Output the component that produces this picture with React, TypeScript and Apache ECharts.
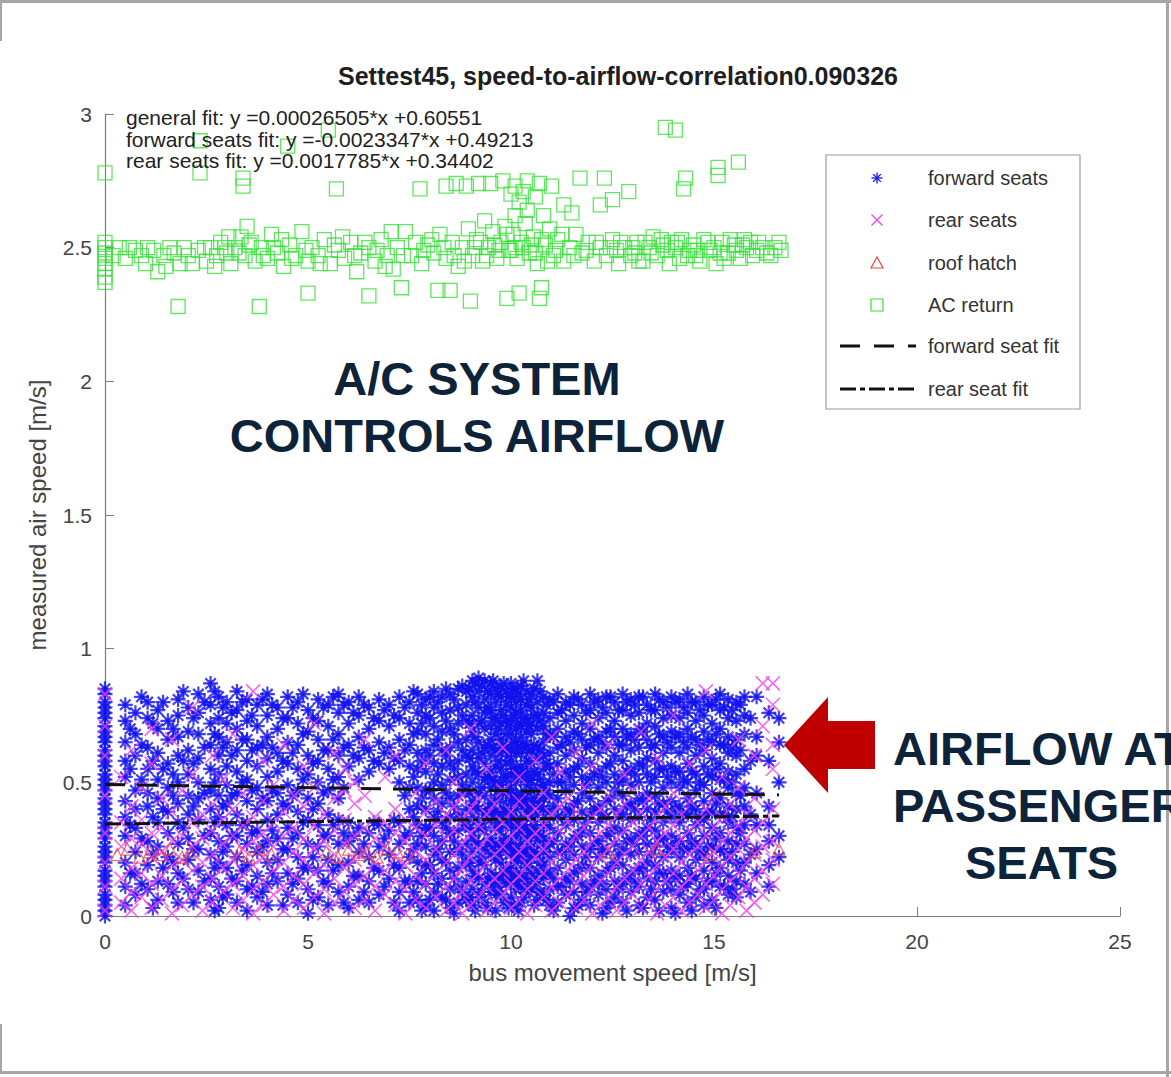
import React, { useEffect, useRef } from "react";
import * as echarts from "echarts";

const FONT = "'Liberation Sans', Arial, Helvetica, sans-serif";

const chartTitle = "Settest45, speed-to-airflow-correlation0.090326";
const xAxisName = "bus movement speed [m/s]";
const yAxisName = "measured air speed [m/s]";
const fitNotes = [
  "general fit: y =0.00026505*x +0.60551",
  "forward seats fit: y =-0.0023347*x +0.49213",
  "rear seats fit: y =0.0017785*x +0.34402",
];
const legendNames = ["forward seats", "rear seats", "roof hatch", "AC return", "forward seat fit", "rear seat fit"];
const calloutTop = ["A/C SYSTEM", "CONTROLS AIRFLOW"];
const calloutRight = ["AIRFLOW AT", "PASSENGERS", "SEATS"];

// forward seats: [bus speed, list of air speeds measured at that speed]
const forwardSeats: [number, number[]][] = [
  [0, [0.0, 0.02, 0.04, 0.06, 0.08, 0.11, 0.13, 0.15, 0.17, 0.2, 0.22, 0.24, 0.26, 0.29, 0.31, 0.33, 0.35, 0.38, 0.4, 0.42, 0.44, 0.47, 0.49, 0.51, 0.53, 0.56, 0.58, 0.6, 0.62, 0.65, 0.67, 0.69, 0.71, 0.74, 0.76, 0.78, 0.8, 0.83, 0.85]],
  [0.5, [0.79, 0.73, 0.65, 0.58, 0.52, 0.43, 0.37, 0.3, 0.2, 0.11, 0.04]],
  [0.62, [0.7, 0.55, 0.34, 0.16]],
  [0.75, [0.76, 0.68, 0.6, 0.47, 0.4, 0.33, 0.24, 0.16, 0.08]],
  [0.9, [0.82, 0.64, 0.51, 0.29, 0.12]],
  [1.05, [0.8, 0.74, 0.63, 0.55, 0.46, 0.41, 0.28, 0.19, 0.1]],
  [1.18, [0.72, 0.58, 0.37, 0.23, 0.03]],
  [1.3, [0.77, 0.7, 0.61, 0.51, 0.44, 0.35, 0.26, 0.13, 0.06]],
  [1.43, [0.8, 0.55, 0.4, 0.18]],
  [1.55, [0.73, 0.66, 0.57, 0.48, 0.39, 0.31, 0.22, 0.12]],
  [1.68, [0.7, 0.53, 0.45, 0.2, 0.09]],
  [1.8, [0.81, 0.75, 0.67, 0.6, 0.5, 0.42, 0.35, 0.27, 0.16, 0.05]],
  [1.93, [0.84, 0.58, 0.33, 0.14]],
  [2.05, [0.78, 0.69, 0.62, 0.53, 0.45, 0.38, 0.29, 0.21, 0.1]],
  [2.18, [0.74, 0.57, 0.41, 0.25, 0.05]],
  [2.3, [0.83, 0.76, 0.68, 0.59, 0.5, 0.44, 0.36, 0.25, 0.17, 0.09]],
  [2.45, [0.8, 0.63, 0.46, 0.3, 0.13]],
  [2.6, [0.87, 0.79, 0.72, 0.64, 0.55, 0.47, 0.4, 0.31, 0.23, 0.14, 0.06]],
  [2.7, [0.84, 0.68, 0.5, 0.35, 0.18, 0.02]],
  [2.8, [0.82, 0.74, 0.67, 0.6, 0.53, 0.45, 0.37, 0.28, 0.2, 0.11, 0.03]],
  [2.9, [0.78, 0.63, 0.41, 0.24, 0.07]],
  [3.0, [0.8, 0.72, 0.65, 0.56, 0.49, 0.42, 0.34, 0.26, 0.18, 0.08]],
  [3.12, [0.76, 0.6, 0.45, 0.3, 0.14]],
  [3.25, [0.84, 0.77, 0.7, 0.62, 0.54, 0.46, 0.38, 0.3, 0.22, 0.13, 0.05]],
  [3.38, [0.8, 0.66, 0.5, 0.34, 0.17]],
  [3.5, [0.81, 0.73, 0.66, 0.58, 0.51, 0.43, 0.35, 0.27, 0.19, 0.1, 0.02]],
  [3.62, [0.75, 0.62, 0.47, 0.31, 0.11]],
  [3.75, [0.79, 0.71, 0.63, 0.56, 0.48, 0.4, 0.32, 0.24, 0.15, 0.07]],
  [3.88, [0.81, 0.64, 0.44, 0.26, 0.09]],
  [4.0, [0.83, 0.75, 0.67, 0.59, 0.52, 0.43, 0.36, 0.28, 0.2, 0.12, 0.04]],
  [4.12, [0.79, 0.63, 0.47, 0.32, 0.16]],
  [4.25, [0.78, 0.7, 0.61, 0.54, 0.46, 0.38, 0.29, 0.21, 0.13]],
  [4.38, [0.74, 0.58, 0.42, 0.25, 0.04]],
  [4.5, [0.82, 0.74, 0.65, 0.57, 0.49, 0.41, 0.33, 0.25, 0.16, 0.08]],
  [4.62, [0.78, 0.61, 0.45, 0.29, 0.12]],
  [4.75, [0.8, 0.72, 0.64, 0.55, 0.47, 0.39, 0.31, 0.22, 0.14, 0.05]],
  [4.88, [0.83, 0.68, 0.51, 0.35, 0.18]],
  [5.0, [0.77, 0.69, 0.6, 0.53, 0.44, 0.36, 0.27, 0.18, 0.1, 0.01]],
  [5.12, [0.74, 0.57, 0.4, 0.22, 0.06]],
  [5.25, [0.81, 0.73, 0.66, 0.58, 0.5, 0.42, 0.34, 0.26, 0.17, 0.07]],
  [5.38, [0.78, 0.62, 0.46, 0.3, 0.13]],
  [5.5, [0.79, 0.71, 0.62, 0.55, 0.47, 0.38, 0.3, 0.21, 0.12, 0.04]],
  [5.62, [0.82, 0.66, 0.51, 0.34, 0.17]],
  [5.75, [0.83, 0.76, 0.68, 0.6, 0.52, 0.44, 0.36, 0.27, 0.19, 0.09]],
  [5.88, [0.79, 0.63, 0.48, 0.31, 0.05]],
  [6.0, [0.8, 0.72, 0.64, 0.56, 0.35, 0.28, 0.2, 0.11, 0.03]],
  [6.12, [0.76, 0.6, 0.3, 0.15]],
  [6.25, [0.82, 0.75, 0.67, 0.59, 0.51, 0.33, 0.24, 0.15, 0.06]],
  [6.38, [0.79, 0.63, 0.27, 0.09]],
  [6.5, [0.78, 0.7, 0.62, 0.54, 0.31, 0.22, 0.13, 0.05]],
  [6.62, [0.74, 0.58, 0.35, 0.18]],
  [6.75, [0.81, 0.73, 0.65, 0.57, 0.34, 0.26, 0.17, 0.08]],
  [6.88, [0.77, 0.61, 0.29, 0.11]],
  [7.0, [0.79, 0.71, 0.63, 0.55, 0.32, 0.23, 0.14]],
  [7.12, [0.75, 0.59, 0.36, 0.19, 0.05]],
  [7.25, [0.82, 0.74, 0.66, 0.58, 0.5, 0.35, 0.27, 0.18, 0.09, 0.02]],
  [7.38, [0.78, 0.62, 0.45, 0.3, 0.13]],
  [7.5, [0.8, 0.72, 0.64, 0.56, 0.48, 0.4, 0.31, 0.22, 0.13, 0.05]],
  [7.6, [0.84, 0.68, 0.52, 0.37, 0.25, 0.09]],
  [7.7, [0.83, 0.76, 0.69, 0.61, 0.55, 0.48, 0.41, 0.34, 0.27, 0.2, 0.13, 0.06]],
  [7.8, [0.79, 0.72, 0.58, 0.44, 0.3, 0.16, 0.02]],
  [7.9, [0.81, 0.75, 0.68, 0.62, 0.54, 0.47, 0.4, 0.33, 0.26, 0.19, 0.12, 0.04]],
  [8.0, [0.82, 0.74, 0.6, 0.47, 0.33, 0.19, 0.06]],
  [8.1, [0.84, 0.78, 0.71, 0.64, 0.57, 0.5, 0.44, 0.37, 0.3, 0.23, 0.16, 0.09, 0.02]],
  [8.2, [0.8, 0.66, 0.53, 0.39, 0.25, 0.12]],
  [8.3, [0.82, 0.76, 0.69, 0.62, 0.56, 0.49, 0.42, 0.35, 0.28, 0.21, 0.14, 0.07]],
  [8.4, [0.85, 0.73, 0.6, 0.46, 0.33, 0.2, 0.06]],
  [8.5, [0.83, 0.77, 0.7, 0.63, 0.57, 0.51, 0.44, 0.37, 0.31, 0.24, 0.17, 0.1, 0.03]],
  [8.6, [0.81, 0.68, 0.55, 0.41, 0.28, 0.14, 0.01]],
  [8.7, [0.85, 0.78, 0.72, 0.65, 0.58, 0.52, 0.45, 0.38, 0.32, 0.25, 0.18, 0.11, 0.05]],
  [8.8, [0.86, 0.75, 0.62, 0.49, 0.36, 0.23, 0.09]],
  [8.9, [0.84, 0.79, 0.73, 0.66, 0.6, 0.53, 0.47, 0.4, 0.34, 0.27, 0.2, 0.13, 0.06]],
  [8.98, [0.85, 0.72, 0.59, 0.46, 0.33, 0.2, 0.07]],
  [9.05, [0.88, 0.82, 0.75, 0.69, 0.62, 0.56, 0.5, 0.43, 0.37, 0.3, 0.24, 0.17, 0.1, 0.04]],
  [9.12, [0.87, 0.8, 0.67, 0.54, 0.41, 0.28, 0.15, 0.02]],
  [9.2, [0.89, 0.84, 0.78, 0.72, 0.65, 0.59, 0.53, 0.46, 0.4, 0.33, 0.27, 0.2, 0.14, 0.07]],
  [9.28, [0.86, 0.73, 0.61, 0.48, 0.35, 0.22, 0.09]],
  [9.35, [0.88, 0.81, 0.76, 0.7, 0.63, 0.57, 0.51, 0.45, 0.38, 0.32, 0.25, 0.19, 0.12, 0.05]],
  [9.43, [0.84, 0.78, 0.64, 0.52, 0.4, 0.27, 0.14, 0.03]],
  [9.5, [0.87, 0.83, 0.77, 0.71, 0.66, 0.6, 0.54, 0.48, 0.42, 0.36, 0.29, 0.23, 0.16, 0.09]],
  [9.56, [0.88, 0.74, 0.63, 0.51, 0.39, 0.26, 0.12]],
  [9.62, [0.85, 0.8, 0.74, 0.68, 0.62, 0.56, 0.5, 0.44, 0.39, 0.33, 0.27, 0.21, 0.15, 0.08, 0.02]],
  [9.69, [0.83, 0.7, 0.58, 0.47, 0.35, 0.23, 0.11]],
  [9.75, [0.86, 0.82, 0.77, 0.72, 0.66, 0.61, 0.55, 0.49, 0.44, 0.38, 0.32, 0.26, 0.2, 0.14, 0.08]],
  [9.82, [0.87, 0.75, 0.64, 0.52, 0.4, 0.28, 0.16, 0.05]],
  [9.88, [0.84, 0.79, 0.73, 0.68, 0.63, 0.57, 0.52, 0.46, 0.41, 0.35, 0.29, 0.24, 0.18, 0.12]],
  [9.94, [0.82, 0.71, 0.6, 0.49, 0.37, 0.26, 0.14, 0.03]],
  [10.0, [0.87, 0.82, 0.78, 0.73, 0.68, 0.62, 0.58, 0.53, 0.47, 0.43, 0.38, 0.33, 0.27, 0.23, 0.18, 0.13, 0.07]],
  [10.06, [0.85, 0.75, 0.65, 0.55, 0.45, 0.35, 0.25, 0.15, 0.04]],
  [10.12, [0.85, 0.8, 0.76, 0.7, 0.65, 0.61, 0.55, 0.5, 0.45, 0.4, 0.36, 0.3, 0.25, 0.2, 0.15, 0.1]],
  [10.18, [0.83, 0.72, 0.63, 0.53, 0.42, 0.33, 0.22, 0.12, 0.02]],
  [10.25, [0.86, 0.81, 0.77, 0.71, 0.67, 0.61, 0.56, 0.52, 0.46, 0.42, 0.36, 0.31, 0.27, 0.21, 0.16, 0.11, 0.05]],
  [10.31, [0.88, 0.74, 0.64, 0.54, 0.44, 0.34, 0.24, 0.14, 0.07]],
  [10.38, [0.84, 0.79, 0.74, 0.69, 0.64, 0.58, 0.54, 0.49, 0.44, 0.39, 0.33, 0.29, 0.24, 0.18, 0.13]],
  [10.44, [0.81, 0.71, 0.61, 0.51, 0.41, 0.31, 0.2, 0.09]],
  [10.5, [0.83, 0.78, 0.72, 0.68, 0.62, 0.57, 0.51, 0.47, 0.41, 0.37, 0.31, 0.26, 0.22, 0.16, 0.1]],
  [10.57, [0.85, 0.75, 0.64, 0.54, 0.44, 0.34, 0.24, 0.14, 0.04]],
  [10.65, [0.88, 0.8, 0.75, 0.7, 0.63, 0.59, 0.53, 0.48, 0.43, 0.38, 0.32, 0.28, 0.23, 0.17, 0.12, 0.06]],
  [10.72, [0.84, 0.73, 0.62, 0.51, 0.41, 0.3, 0.2, 0.09]],
  [10.8, [0.82, 0.76, 0.71, 0.65, 0.6, 0.55, 0.49, 0.44, 0.4, 0.34, 0.29, 0.24, 0.19, 0.14, 0.08]],
  [10.87, [0.79, 0.68, 0.57, 0.47, 0.36, 0.26, 0.16, 0.06]],
  [10.95, [0.81, 0.74, 0.68, 0.61, 0.56, 0.5, 0.45, 0.39, 0.33, 0.27, 0.22, 0.16, 0.1, 0.04]],
  [11.05, [0.8, 0.67, 0.53, 0.41, 0.28, 0.14, 0.02]],
  [11.15, [0.83, 0.76, 0.7, 0.63, 0.57, 0.5, 0.44, 0.37, 0.31, 0.24, 0.18, 0.11, 0.05]],
  [11.25, [0.77, 0.64, 0.5, 0.37, 0.24, 0.11]],
  [11.35, [0.8, 0.73, 0.67, 0.6, 0.54, 0.47, 0.4, 0.34, 0.27, 0.21, 0.14, 0.08]],
  [11.45, [0.79, 0.65, 0.52, 0.39, 0.26, 0.13, 0.0]],
  [11.55, [0.82, 0.75, 0.69, 0.62, 0.55, 0.49, 0.42, 0.36, 0.29, 0.23, 0.16, 0.09, 0.03]],
  [11.65, [0.81, 0.68, 0.56, 0.43, 0.3, 0.17, 0.04]],
  [11.75, [0.79, 0.72, 0.66, 0.59, 0.52, 0.46, 0.39, 0.32, 0.26, 0.19, 0.12, 0.06]],
  [11.85, [0.76, 0.63, 0.49, 0.35, 0.22, 0.09]],
  [11.95, [0.83, 0.77, 0.7, 0.64, 0.57, 0.51, 0.44, 0.38, 0.31, 0.25, 0.18, 0.11, 0.04]],
  [12.05, [0.8, 0.66, 0.53, 0.4, 0.27, 0.13]],
  [12.15, [0.81, 0.74, 0.67, 0.61, 0.54, 0.48, 0.41, 0.35, 0.28, 0.22, 0.15, 0.08]],
  [12.25, [0.78, 0.65, 0.52, 0.38, 0.25, 0.12, 0.01]],
  [12.35, [0.82, 0.76, 0.69, 0.63, 0.56, 0.5, 0.43, 0.37, 0.3, 0.24, 0.17, 0.1, 0.03]],
  [12.45, [0.82, 0.7, 0.57, 0.44, 0.31, 0.18, 0.05]],
  [12.55, [0.8, 0.73, 0.67, 0.6, 0.53, 0.47, 0.4, 0.33, 0.27, 0.2, 0.13, 0.07]],
  [12.65, [0.77, 0.64, 0.5, 0.37, 0.23, 0.1]],
  [12.75, [0.83, 0.77, 0.7, 0.64, 0.58, 0.51, 0.45, 0.38, 0.32, 0.25, 0.19, 0.12, 0.05]],
  [12.85, [0.8, 0.67, 0.54, 0.41, 0.28, 0.14, 0.02]],
  [12.95, [0.81, 0.75, 0.68, 0.62, 0.55, 0.49, 0.42, 0.36, 0.29, 0.23, 0.16, 0.09]],
  [13.05, [0.79, 0.66, 0.53, 0.4, 0.27, 0.13]],
  [13.15, [0.82, 0.76, 0.7, 0.63, 0.57, 0.5, 0.44, 0.37, 0.31, 0.24, 0.18, 0.11, 0.04]],
  [13.25, [0.82, 0.69, 0.56, 0.43, 0.3, 0.17, 0.03]],
  [13.35, [0.79, 0.72, 0.66, 0.59, 0.53, 0.46, 0.4, 0.33, 0.27, 0.2, 0.14, 0.07]],
  [13.45, [0.77, 0.63, 0.5, 0.36, 0.23, 0.1]],
  [13.55, [0.83, 0.77, 0.71, 0.64, 0.58, 0.52, 0.45, 0.39, 0.32, 0.26, 0.19, 0.13, 0.06]],
  [13.65, [0.81, 0.68, 0.55, 0.42, 0.29, 0.16, 0.02]],
  [13.75, [0.8, 0.74, 0.67, 0.61, 0.55, 0.48, 0.42, 0.35, 0.29, 0.22, 0.16, 0.09]],
  [13.85, [0.78, 0.65, 0.52, 0.39, 0.26, 0.13]],
  [13.95, [0.82, 0.75, 0.69, 0.63, 0.56, 0.5, 0.43, 0.37, 0.3, 0.24, 0.17, 0.1, 0.03]],
  [14.05, [0.8, 0.67, 0.54, 0.4, 0.27, 0.14, 0.01]],
  [14.15, [0.81, 0.74, 0.68, 0.61, 0.54, 0.48, 0.41, 0.35, 0.28, 0.22, 0.15, 0.08]],
  [14.25, [0.78, 0.65, 0.51, 0.38, 0.25, 0.11]],
  [14.35, [0.83, 0.76, 0.7, 0.63, 0.57, 0.5, 0.44, 0.38, 0.31, 0.25, 0.18, 0.12, 0.05]],
  [14.45, [0.8, 0.67, 0.54, 0.41, 0.28, 0.15, 0.02]],
  [14.55, [0.8, 0.73, 0.66, 0.6, 0.53, 0.47, 0.4, 0.34, 0.27, 0.21, 0.14, 0.07]],
  [14.65, [0.77, 0.64, 0.5, 0.37, 0.24, 0.1]],
  [14.75, [0.82, 0.75, 0.69, 0.62, 0.56, 0.49, 0.43, 0.36, 0.3, 0.23, 0.17, 0.1, 0.04]],
  [14.85, [0.79, 0.66, 0.53, 0.39, 0.26, 0.13]],
  [14.95, [0.79, 0.72, 0.65, 0.59, 0.52, 0.46, 0.39, 0.33, 0.26, 0.2, 0.13, 0.06]],
  [15.05, [0.81, 0.68, 0.55, 0.42, 0.29, 0.16, 0.03]],
  [15.15, [0.83, 0.77, 0.7, 0.64, 0.57, 0.51, 0.44, 0.38, 0.31, 0.25, 0.18, 0.11]],
  [15.25, [0.78, 0.64, 0.51, 0.38, 0.24, 0.11]],
  [15.35, [0.81, 0.74, 0.67, 0.61, 0.54, 0.48, 0.41, 0.35, 0.28, 0.21, 0.15, 0.08]],
  [15.45, [0.77, 0.63, 0.5, 0.37, 0.24, 0.1]],
  [15.55, [0.8, 0.73, 0.66, 0.6, 0.53, 0.46, 0.4, 0.33, 0.27, 0.2, 0.13, 0.07]],
  [15.65, [0.79, 0.62, 0.45, 0.31, 0.17]],
  [15.75, [0.82, 0.75, 0.68, 0.55, 0.48, 0.41, 0.34, 0.27, 0.2, 0.12]],
  [15.9, [0.74, 0.58, 0.38, 0.23, 0.09]],
  [16.05, [0.82, 0.67, 0.6, 0.46, 0.34, 0.25, 0.16]],
  [16.35, [0.76, 0.58, 0.41, 0.34, 0.28, 0.19, 0.11]],
  [16.6, [0.74, 0.65, 0.5, 0.3, 0.22]],
];

// rear seats: [bus speed, list of air speeds]
const rearSeats: [number, number[]][] = [
  [0, [0.02, 0.11, 0.2, 0.31, 0.45, 0.6, 0.71, 0.83]],
  [0.4, [0.05, 0.14, 0.26, 0.35, 0.52]],
  [0.65, [0.02, 0.09, 0.18, 0.29, 0.41, 0.62]],
  [0.9, [0.07, 0.16, 0.27, 0.36, 0.48]],
  [1.15, [0.03, 0.12, 0.22, 0.31, 0.57, 0.7]],
  [1.4, [0.06, 0.15, 0.24, 0.33, 0.44]],
  [1.65, [0.01, 0.1, 0.19, 0.28, 0.39, 0.66]],
  [1.9, [0.04, 0.13, 0.21, 0.3, 0.47]],
  [2.15, [0.08, 0.17, 0.26, 0.35, 0.53, 0.78]],
  [2.4, [0.02, 0.11, 0.2, 0.29, 0.38]],
  [2.65, [0.05, 0.14, 0.23, 0.32, 0.42, 0.6]],
  [2.9, [0.09, 0.18, 0.27, 0.36, 0.51]],
  [3.15, [0.03, 0.12, 0.21, 0.3, 0.4, 0.68]],
  [3.4, [0.06, 0.15, 0.25, 0.34, 0.46]],
  [3.65, [0.01, 0.1, 0.19, 0.28, 0.37, 0.84]],
  [3.9, [0.04, 0.13, 0.22, 0.31, 0.43, 0.58]],
  [4.15, [0.08, 0.17, 0.26, 0.35, 0.49]],
  [4.4, [0.02, 0.11, 0.2, 0.3, 0.39, 0.64]],
  [4.65, [0.06, 0.15, 0.24, 0.33, 0.45]],
  [4.9, [0.03, 0.12, 0.21, 0.29, 0.41, 0.56]],
  [5.15, [0.07, 0.16, 0.25, 0.34, 0.48, 0.72]],
  [5.4, [0.01, 0.1, 0.19, 0.28, 0.38]],
  [5.65, [0.05, 0.14, 0.23, 0.32, 0.44, 0.61]],
  [5.9, [0.09, 0.18, 0.27, 0.36, 0.47, 0.55]],
  [6.15, [0.03, 0.12, 0.21, 0.3, 0.42, 0.5]],
  [6.4, [0.06, 0.15, 0.24, 0.33, 0.45, 0.66]],
  [6.65, [0.02, 0.11, 0.2, 0.29, 0.37]],
  [6.9, [0.08, 0.17, 0.26, 0.35, 0.52]],
  [7.15, [0.04, 0.13, 0.22, 0.31, 0.4, 0.6]],
  [7.4, [0.01, 0.1, 0.19, 0.28, 0.36]],
  [7.65, [0.06, 0.15, 0.24, 0.33, 0.46]],
  [7.9, [0.03, 0.12, 0.21, 0.3, 0.39, 0.57]],
  [8.15, [0.07, 0.16, 0.25, 0.34, 0.43]],
  [8.4, [0.02, 0.11, 0.2, 0.29, 0.38, 0.62]],
  [8.6, [0.05, 0.14, 0.23, 0.32, 0.41, 0.5]],
  [8.8, [0.01, 0.09, 0.18, 0.27, 0.36, 0.45]],
  [9.0, [0.04, 0.13, 0.22, 0.31, 0.4, 0.7]],
  [9.2, [0.07, 0.16, 0.25, 0.34, 0.44]],
  [9.4, [0.02, 0.11, 0.2, 0.29, 0.38, 0.55]],
  [9.6, [0.05, 0.14, 0.23, 0.32, 0.42]],
  [9.8, [0.08, 0.17, 0.26, 0.35, 0.47, 0.63]],
  [10.0, [0.03, 0.12, 0.21, 0.3, 0.39]],
  [10.2, [0.06, 0.15, 0.24, 0.33, 0.43, 0.52]],
  [10.4, [0.01, 0.1, 0.19, 0.28, 0.37]],
  [10.6, [0.04, 0.13, 0.22, 0.31, 0.4, 0.58]],
  [10.8, [0.07, 0.16, 0.25, 0.34, 0.46]],
  [11.0, [0.02, 0.11, 0.2, 0.29, 0.38, 0.67]],
  [11.2, [0.05, 0.14, 0.23, 0.32, 0.41, 0.54]],
  [11.4, [0.08, 0.17, 0.26, 0.35, 0.44]],
  [11.6, [0.03, 0.12, 0.21, 0.3, 0.39, 0.61]],
  [11.8, [0.06, 0.15, 0.24, 0.33, 0.48]],
  [12.0, [0.01, 0.1, 0.19, 0.28, 0.37, 0.56, 0.72]],
  [12.2, [0.04, 0.13, 0.22, 0.31, 0.4]],
  [12.4, [0.07, 0.16, 0.25, 0.34, 0.45, 0.64]],
  [12.6, [0.02, 0.11, 0.2, 0.29, 0.38]],
  [12.8, [0.05, 0.14, 0.23, 0.32, 0.42, 0.53]],
  [13.0, [0.08, 0.17, 0.26, 0.35, 0.47]],
  [13.2, [0.03, 0.12, 0.21, 0.3, 0.39, 0.69]],
  [13.4, [0.06, 0.15, 0.24, 0.33, 0.44]],
  [13.6, [0.01, 0.1, 0.19, 0.28, 0.37, 0.59]],
  [13.8, [0.04, 0.13, 0.22, 0.31, 0.41]],
  [14.0, [0.07, 0.16, 0.25, 0.34, 0.46, 0.75]],
  [14.2, [0.02, 0.11, 0.2, 0.29, 0.38]],
  [14.4, [0.05, 0.14, 0.23, 0.32, 0.43, 0.57]],
  [14.6, [0.08, 0.17, 0.26, 0.35]],
  [14.8, [0.03, 0.12, 0.21, 0.3, 0.4, 0.62, 0.84]],
  [15.0, [0.06, 0.15, 0.24, 0.33, 0.45]],
  [15.2, [0.01, 0.1, 0.19, 0.28, 0.37, 0.52]],
  [15.4, [0.04, 0.13, 0.22, 0.31, 0.42]],
  [15.6, [0.07, 0.16, 0.25, 0.34, 0.48, 0.66]],
  [15.8, [0.02, 0.11, 0.2, 0.29, 0.38]],
  [16.0, [0.05, 0.14, 0.23, 0.32, 0.44, 0.6]],
  [16.2, [0.08, 0.17, 0.26, 0.35, 0.71, 0.87]],
  [16.45, [0.12, 0.21, 0.28, 0.4, 0.55, 0.64, 0.79, 0.87]],
];

const roofHatch: [number, number][] = [
  [0.3, 0.23], [0.55, 0.25], [0.85, 0.22], [1.1, 0.24], [1.35, 0.23], [1.6, 0.25], [1.9, 0.22], [2.1, 0.24],
  [3.3, 0.24], [3.55, 0.22], [3.8, 0.25], [4.1, 0.23], [5.45, 0.24], [5.75, 0.22], [6.0, 0.25], [6.25, 0.23],
  [6.45, 0.24], [6.7, 0.22], [6.95, 0.25], [7.2, 0.24], [7.45, 0.23], [12.4, 0.24], [13.6, 0.25], [14.9, 0.23],
  [16.0, 0.24], [16.6, 0.25],
];

const acReturn: [number, number][] = [
  [0, 2.37], [0, 2.39], [0, 2.42], [0, 2.44], [0, 2.46], [0, 2.48], [0, 2.5], [0, 2.52], [0, 2.78],
  [0.35, 2.5], [0.5, 2.46], [0.75, 2.49], [1.0, 2.44], [1.05, 2.5], [1.3, 2.41], [1.45, 2.47], [1.6, 2.5],
  [1.8, 2.28], [1.85, 2.44], [2.05, 2.47], [2.3, 2.49], [2.34, 2.9], [2.34, 2.78], [2.5, 2.45], [2.6, 2.5],
  [2.75, 2.47], [2.85, 2.52], [3.0, 2.48], [3.1, 2.44], [3.2, 2.5], [3.35, 2.54], [3.4, 2.76], [3.4, 2.73],
  [3.45, 2.47], [3.5, 2.58], [3.55, 2.51], [3.7, 2.45], [3.8, 2.28], [3.85, 2.5], [4.0, 2.46], [4.1, 2.55],
  [4.25, 2.48], [4.4, 2.43], [4.5, 2.88], [4.55, 2.51], [4.7, 2.47], [4.85, 2.56], [5.0, 2.33], [5.0, 2.45],
  [5.1, 2.5], [5.25, 2.47], [5.4, 2.53], [5.5, 2.94], [5.55, 2.44], [5.7, 2.72], [5.75, 2.49], [5.9, 2.46],
  [6.05, 2.52], [6.2, 2.41], [6.3, 2.48], [6.5, 2.32], [6.5, 2.5], [6.65, 2.45], [6.8, 2.53], [6.95, 2.47],
  [7.1, 2.42], [7.2, 2.5], [7.3, 2.35], [7.4, 2.56], [7.55, 2.47], [7.76, 2.72], [7.8, 2.44], [7.95, 2.51],
  [8.1, 2.48], [8.2, 2.34], [8.25, 2.55], [8.4, 2.73], [8.4, 2.46], [8.5, 2.34], [8.55, 2.52], [8.65, 2.74],
  [8.7, 2.43], [8.8, 2.5], [8.9, 2.73], [8.95, 2.57], [9.0, 2.3], [9.05, 2.47], [9.1, 2.5], [9.15, 2.53],
  [9.2, 2.74], [9.3, 2.45], [9.35, 2.6], [9.45, 2.5], [9.5, 2.74], [9.55, 2.56], [9.6, 2.51], [9.65, 2.46],
  [9.75, 2.52], [9.8, 2.75], [9.85, 2.58], [9.9, 2.31], [9.95, 2.49], [10.0, 2.7], [10.0, 2.49], [10.05, 2.55],
  [10.1, 2.73], [10.1, 2.62], [10.15, 2.46], [10.2, 2.33], [10.2, 2.67], [10.25, 2.52], [10.3, 2.71], [10.3, 2.5],
  [10.35, 2.59], [10.4, 2.75], [10.4, 2.64], [10.45, 2.48], [10.55, 2.54], [10.6, 2.69], [10.6, 2.48], [10.65, 2.44],
  [10.7, 2.74], [10.7, 2.31], [10.75, 2.35], [10.8, 2.62], [10.85, 2.51], [10.9, 2.45], [10.95, 2.57], [11.0, 2.73],
  [11.05, 2.47], [11.15, 2.53], [11.3, 2.66], [11.3, 2.45], [11.45, 2.5], [11.5, 2.63], [11.6, 2.55], [11.7, 2.76],
  [11.75, 2.48], [11.9, 2.52], [12.05, 2.45], [12.2, 2.66], [12.2, 2.5], [12.3, 2.76], [12.35, 2.47], [12.5, 2.68],
  [12.5, 2.53], [12.6, 2.49], [12.65, 2.44], [12.8, 2.5], [12.9, 2.71], [12.95, 2.47], [13.05, 2.48], [13.1, 2.52],
  [13.25, 2.45], [13.3, 2.52], [13.4, 2.5], [13.5, 2.54], [13.6, 2.47], [13.75, 2.51], [13.8, 2.95], [13.9, 2.44],
  [13.95, 2.52], [14.05, 2.94], [14.05, 2.5], [14.15, 2.46], [14.2, 2.53], [14.25, 2.72], [14.3, 2.76], [14.35, 2.47],
  [14.5, 2.51], [14.6, 2.49], [14.65, 2.45], [14.75, 2.53], [14.9, 2.49], [15.05, 2.44], [15.1, 2.8], [15.1, 2.77],
  [15.2, 2.52], [15.25, 2.46], [15.35, 2.48], [15.5, 2.51], [15.6, 2.82], [15.65, 2.46], [15.75, 2.53], [15.8, 2.5],
  [15.95, 2.47], [16.1, 2.52], [16.3, 2.48], [16.5, 2.5], [16.65, 2.49],
  [0.2, 2.47], [0.6, 2.5], [0.9, 2.47], [1.2, 2.49], [1.5, 2.43], [1.7, 2.48], [1.95, 2.5], [2.15, 2.44],
  [2.45, 2.5], [2.7, 2.43], [2.95, 2.5], [3.05, 2.54], [3.3, 2.48], [3.6, 2.52], [3.9, 2.47], [4.15, 2.5],
  [4.35, 2.53], [4.6, 2.46], [4.95, 2.49], [5.3, 2.44], [5.65, 2.51], [5.85, 2.54], [6.15, 2.47], [6.4, 2.52],
  [6.7, 2.49], [6.9, 2.43], [7.05, 2.56], [7.35, 2.47], [7.65, 2.52], [7.85, 2.49], [8.05, 2.53], [8.35, 2.5],
  [8.6, 2.47], [8.85, 2.45], [9.25, 2.52], [9.4, 2.47], [9.7, 2.49], [9.9, 2.55], [10.1, 2.5], [10.5, 2.51],
  [10.75, 2.53], [11.1, 2.49], [11.25, 2.55], [11.55, 2.47], [11.85, 2.49], [12.1, 2.52], [12.45, 2.5], [12.7, 2.52],
  [13.0, 2.5], [13.15, 2.45], [13.45, 2.48], [13.7, 2.53], [13.85, 2.49], [14.1, 2.52], [14.4, 2.49], [14.55, 2.47],
  [14.85, 2.52], [15.0, 2.5], [15.15, 2.48], [15.4, 2.53], [15.55, 2.49], [15.7, 2.51], [15.9, 2.52], [16.05, 2.49],
  [16.2, 2.5], [16.4, 2.47], [16.6, 2.52],
];

const forwardFit: [number, number][] = [[0, 0.492], [16.6, 0.453]];
const rearFit: [number, number][] = [[0, 0.344], [16.6, 0.374]];

const BLUE = "#1010ee";
const MAGENTA = "#ee44ee";
const RED = "#e5483e";
const GREEN = "#38e038";
const NAVY = "#0d2339";

const ASTERISK = "path://M10,0L10,20M0,10L20,10M3,3L17,17M3,17L17,3M7,10A3,3,0,1,0,13,10A3,3,0,1,0,7,10Z";
const CROSS = "path://M0,0L20,20M0,20L20,0";

function flatten(cols: [number, number[]][]): [number, number][] {
  const out: [number, number][] = [];
  cols.forEach(([x, ys]) => ys.forEach((y) => out.push([x, y])));
  return out;
}

function legendGraphic() {
  const x0 = 826, y0 = 155;
  const rows = [178, 220, 263, 305, 346, 389];
  const mx = 877;
  const children: any[] = [
    { type: "rect", shape: { x: x0, y: y0, width: 254, height: 254 }, style: { fill: "#fff", stroke: "#9a9a9a", lineWidth: 1.2 } },
  ];
  const r = 5.5;
  [[0, -r, 0, r], [-r, 0, r, 0], [-r * 0.7, -r * 0.7, r * 0.7, r * 0.7], [-r * 0.7, r * 0.7, r * 0.7, -r * 0.7]].forEach((s) =>
    children.push({ type: "line", shape: { x1: mx + s[0], y1: rows[0] + s[1], x2: mx + s[2], y2: rows[0] + s[3] }, style: { stroke: BLUE, lineWidth: 1.3 } })
  );
  [[-r, -r, r, r], [-r, r, r, -r]].forEach((s) =>
    children.push({ type: "line", shape: { x1: mx + s[0], y1: rows[1] + s[1], x2: mx + s[2], y2: rows[1] + s[3] }, style: { stroke: MAGENTA, lineWidth: 1.2 } })
  );
  children.push({ type: "polygon", shape: { points: [[mx, rows[2] - 6], [mx - 6, rows[2] + 5], [mx + 6, rows[2] + 5]] }, style: { fill: "none", stroke: RED, lineWidth: 1.2 } });
  children.push({ type: "rect", shape: { x: mx - 6, y: rows[3] - 6, width: 12, height: 12 }, style: { fill: "none", stroke: GREEN, lineWidth: 1.2 } });
  children.push({ type: "line", shape: { x1: 840, y1: rows[4], x2: 916, y2: rows[4] }, style: { stroke: "#111", lineWidth: 3, lineDash: [20, 14] } });
  children.push({ type: "line", shape: { x1: 840, y1: rows[5], x2: 916, y2: rows[5] }, style: { stroke: "#111", lineWidth: 3, lineDash: [16, 4, 5, 4] } });
  legendNames.forEach((name, i) =>
    children.push({ type: "text", style: { x: 928, y: rows[i], text: name, font: `20px ${FONT}`, fill: "#333", textVerticalAlign: "middle" } })
  );
  return { type: "group", children };
}

export default function App() {
  const ref = useRef<HTMLDivElement>(null);
  useEffect(() => {
    if (!ref.current) return;
    const chart = echarts.init(ref.current, undefined, { renderer: "svg" });
    const scatterBase = { type: "scatter", clip: false, silent: true };
    const option: any = {
      animation: false,
      backgroundColor: "#fff",
      textStyle: { fontFamily: FONT },
      title: {
        text: chartTitle,
        left: 613,
        top: 58,
        textAlign: "center",
        textStyle: { fontSize: 25, fontWeight: "bold", color: "#1e1e1e", fontFamily: FONT },
      },
      grid: { left: 105, top: 114, right: 51, bottom: 161, containLabel: false },
      xAxis: {
        type: "value",
        min: 0,
        max: 25,
        interval: 5,
        name: xAxisName,
        nameLocation: "middle",
        nameGap: 44,
        nameTextStyle: { fontSize: 24, color: "#444", fontFamily: FONT },
        axisLine: { lineStyle: { color: "#7d7d7d", width: 1.2 } },
        axisTick: { inside: true, length: 9, lineStyle: { color: "#7d7d7d" } },
        axisLabel: { fontSize: 21, color: "#444", margin: 15, fontFamily: FONT },
        splitLine: { show: false },
      },
      yAxis: {
        type: "value",
        min: 0,
        max: 3,
        interval: 0.5,
        name: yAxisName,
        nameLocation: "middle",
        nameGap: 56,
        nameRotate: 90,
        nameTextStyle: { fontSize: 24, color: "#444", fontFamily: FONT },
        axisLine: { show: true, lineStyle: { color: "#7d7d7d", width: 1.2 } },
        axisTick: { show: true, inside: true, length: 9, lineStyle: { color: "#7d7d7d" } },
        axisLabel: { fontSize: 21, color: "#444", margin: 13, fontFamily: FONT },
        splitLine: { show: false },
      },
      series: [
        {
          ...scatterBase,
          name: legendNames[0],
          data: flatten(forwardSeats),
          symbol: ASTERISK,
          symbolSize: 15,
          z: 2,
          itemStyle: { color: BLUE, borderColor: BLUE, borderWidth: 2.2 },
        },
        {
          ...scatterBase,
          name: legendNames[1],
          data: flatten(rearSeats),
          symbol: CROSS,
          symbolSize: 14,
          z: 3,
          itemStyle: { color: "rgba(0,0,0,0)", borderColor: MAGENTA, borderWidth: 1.6 },
        },
        {
          ...scatterBase,
          name: legendNames[2],
          data: roofHatch,
          symbol: "triangle",
          symbolSize: 12,
          z: 4,
          itemStyle: { color: "rgba(0,0,0,0)", borderColor: RED, borderWidth: 1.2 },
        },
        {
          ...scatterBase,
          name: legendNames[3],
          data: acReturn,
          symbol: "rect",
          symbolSize: 14,
          z: 4,
          itemStyle: { color: "rgba(0,0,0,0)", borderColor: GREEN, borderWidth: 1.3 },
        },
        {
          type: "line",
          name: legendNames[4],
          data: forwardFit,
          symbol: "none",
          silent: true,
          z: 6,
          lineStyle: { color: "#111", width: 3, type: [20, 12] },
        },
        {
          type: "line",
          name: legendNames[5],
          data: rearFit,
          symbol: "none",
          silent: true,
          z: 6,
          lineStyle: { color: "#111", width: 3, type: [16, 4, 5, 4] },
        },
      ],
      graphic: [
        { type: "rect", shape: { x: 0, y: 0, width: 1171, height: 3 }, style: { fill: "#a6a6a6" }, silent: true },
        { type: "rect", shape: { x: 1166, y: 0, width: 3, height: 1077 }, style: { fill: "#a6a6a6" }, silent: true },
        { type: "rect", shape: { x: 0, y: 1071, width: 1171, height: 3 }, style: { fill: "#a6a6a6" }, silent: true },
        { type: "rect", shape: { x: 0, y: 0, width: 2, height: 41 }, style: { fill: "#a6a6a6" }, silent: true },
        { type: "rect", shape: { x: 0, y: 1024, width: 2, height: 50 }, style: { fill: "#a6a6a6" }, silent: true },
        ...fitNotes.map((t, i) => ({
          type: "text",
          z: 10,
          style: { x: 126, y: 117.5 + i * 21.5, text: t, font: `21px ${FONT}`, lineHeight: 19, fill: "#222", textVerticalAlign: "middle" },
        })),
        { ...legendGraphic(), z: 10 },
        ...calloutTop.map((t, i) => ({
          type: "text",
          z: 10,
          style: { x: 477, y: 378 + i * 57, text: t, font: `bold 47px ${FONT}`, fill: NAVY, textAlign: "center", textVerticalAlign: "middle" },
        })),
        {
          type: "polygon",
          z: 10,
          shape: { points: [[784, 745], [828, 697], [828, 721], [875, 721], [875, 769], [828, 769], [828, 793]] },
          style: { fill: "#c00000" },
        },
        ...calloutRight.map((t, i) => ({
          type: "text",
          z: 10,
          style: { x: i < 2 ? 893 : 965, y: 748 + i * 57, text: t, font: `bold 47px ${FONT}`, fill: NAVY, textAlign: "left", textVerticalAlign: "middle" },
        })),
      ],
    };
    chart.setOption(option);
    return () => chart.dispose();
  }, []);
  return <div ref={ref} style={{ position: "absolute", left: 0, top: 0, width: 1171, height: 1077, background: "#fff" }} />;
}
